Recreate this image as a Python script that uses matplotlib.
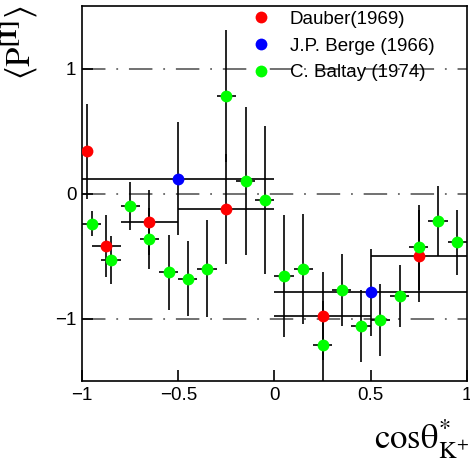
import matplotlib
matplotlib.use("Agg")
import matplotlib.pyplot as plt

plt.rcParams["font.family"] = ["Liberation Sans", "DejaVu Sans"]
plt.rcParams["mathtext.fontset"] = "stix"

# Dauber (1969)
dauber_x = [-0.975, -0.875, -0.65, -0.25, 0.25, 0.75]
dauber_xerr = [0.025, 0.075, 0.15, 0.25, 0.25, 0.25]
dauber_y = [0.34, -0.42, -0.23, -0.12, -0.98, -0.50]
dauber_yerr = [0.38, 0.25, 0.26, 0.44, 0.35, 0.365]

# J.P. Berge (1966)
berge_x = [-0.5, 0.5]
berge_xerr = [0.5, 0.5]
berge_y = [0.12, -0.79]
berge_yerr = [0.45, 0.35]

# C. Baltay (1974)
baltay_x = [-0.95, -0.85, -0.75, -0.65, -0.55, -0.45, -0.35, -0.25, -0.15, -0.05,
            0.05, 0.15, 0.25, 0.35, 0.45, 0.55, 0.65, 0.75, 0.85, 0.95]
baltay_xerr = [0.05] * 20
baltay_y = [-0.24, -0.53, -0.10, -0.36, -0.63, -0.68, -0.60, 0.78, 0.10, -0.05,
            -0.66, -0.60, -1.21, -0.77, -1.06, -1.01, -0.82, -0.43, -0.22, -0.39]
baltay_yerr = [0.10, 0.19, 0.19, 0.245, 0.30, 0.30, 0.39, 0.53, 0.59, 0.59,
               0.49, 0.44, 0.35, 0.29, 0.29, 0.29, 0.245, 0.34, 0.28, 0.26]

labels = ["Dauber(1969)", "J.P. Berge (1966)", "C. Baltay (1974)"]
ref_levels = [-1, 0, 1]

fig = plt.figure(figsize=(4.7, 4.62), dpi=100)
ax = fig.add_axes([0.1745, 0.1753, 0.819, 0.8117])

for lv in ref_levels:
    ax.plot([-1, 1], [lv, lv], color="#666666", lw=1.3,
            linestyle=(0, (13, 6, 1, 6)), zorder=1)

style = dict(fmt="o", ms=8.5, ecolor="black", elinewidth=1.2,
             capsize=1.8, capthick=1.2, zorder=3, markeredgewidth=0)

e1 = ax.errorbar(dauber_x, dauber_y, xerr=dauber_xerr, yerr=dauber_yerr,
                 color="#ff0000", **style)
e2 = ax.errorbar(berge_x, berge_y, xerr=berge_xerr, yerr=berge_yerr,
                 color="#0000ff", **style)
e3 = ax.errorbar(baltay_x, baltay_y, xerr=baltay_xerr, yerr=baltay_yerr,
                 color="#00ff00", **style)

ax.set_xlim(-1, 1)
ax.set_ylim(-1.5, 1.5)
ax.set_xticks([-1, -0.5, 0, 0.5, 1])
ax.set_xticklabels(["\u22121", "\u22120.5", "0", "0.5", "1"])
ax.set_yticks([-1, 0, 1])
ax.set_yticklabels(["\u22121", "0", "1"])
ax.tick_params(direction="in", length=8, width=1.2, labelsize=13.5, pad=4)
for s in ax.spines.values():
    s.set_linewidth(1.2)

leg = ax.legend([e1[0], e2[0], e3[0]], labels, loc="upper left",
                bbox_to_anchor=(0.435, 0.993), frameon=False, fontsize=13.5,
                handlelength=1.0, handletextpad=1.05, labelspacing=0.52,
                borderpad=0.1, borderaxespad=0)

fig.text(0.042, 0.908, r"$\langle\mathrm{P}^{\mathbf{[I]}}\rangle$", rotation=90,
         fontsize=25, ha="center", va="center")
fig.text(0.997, 0.003, r"$\mathrm{cos}\mathrm{\theta}^{*}_{\mathrm{K}^{+}}$",
         fontsize=25, ha="right", va="bottom")

fig.savefig("out.png", dpi=100)
